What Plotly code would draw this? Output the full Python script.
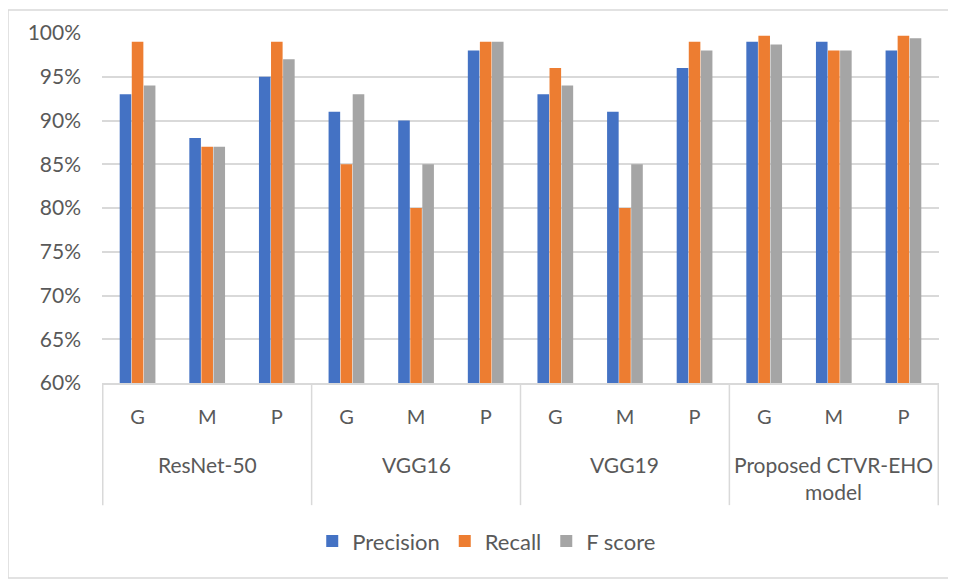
import plotly.graph_objects as go

models = ["ResNet-50", "VGG16", "VGG19", "Proposed CTVR-EHO<br>model"]
classes = ["G", "M", "P"]
precision = [0.93, 0.88, 0.95, 0.91, 0.90, 0.98, 0.93, 0.91, 0.96, 0.99, 0.99, 0.98]
recall = [0.99, 0.87, 0.99, 0.85, 0.80, 0.99, 0.96, 0.80, 0.99, 0.997, 0.98, 0.997]
fscore = [0.94, 0.87, 0.97, 0.93, 0.85, 0.99, 0.94, 0.85, 0.98, 0.987, 0.98, 0.994]
series = [("Precision", precision, "#4472C4"), ("Recall", recall, "#ED7D31"), ("F score", fscore, "#A5A5A5")]

keys = [f"{m}|{c}" for m in models for c in classes]
ticktext = [c for m in models for c in classes]

FONT = "Lato, 'Open Sans', sans-serif"
TXT = "#595959"
GRID = "#d9d9d9"

fig = go.Figure()
for name, vals, col in series:
    fig.add_trace(go.Bar(x=keys, y=vals, name=name, marker=dict(color=col, line=dict(width=0))))

fig.update_layout(
    width=948, height=571,
    margin=dict(l=94, r=17, t=25, b=196, autoexpand=False),
    paper_bgcolor="white", plot_bgcolor="white",
    barmode="group", bargap=0.48, bargroupgap=0.04,
    font=dict(family=FONT, size=20, color=TXT),
    showlegend=True,
    legend=dict(orientation="h", xref="container", x=0.505, xanchor="center",
                yref="container", y=0.066, yanchor="middle",
                font=dict(size=22, color=TXT), itemwidth=30, traceorder="normal"),
)
fig.update_yaxes(range=[0.6, 1.0], dtick=0.05, tick0=0.6, tickformat=".0%",
                 showgrid=True, gridcolor=GRID, gridwidth=1.5, zeroline=False,
                 showline=False, ticks="", ticklabelstandoff=20, automargin=False,
                 tickfont=dict(size=21, color=TXT))
fig.update_xaxes(type="category", categoryorder="array", categoryarray=keys,
                 tickvals=keys, ticktext=ticktext, showgrid=False,
                 showline=True, linecolor=GRID, linewidth=1.5, ticks="",
                 ticklabelstandoff=15, automargin=False, tickfont=dict(size=20, color=TXT))

# group dividers
for i in range(len(models) + 1):
    fig.add_shape(type="line", xref="x", yref="paper",
                  x0=i * 3 - 0.5, x1=i * 3 - 0.5, y0=0, y1=-0.349,
                  line=dict(color=GRID, width=1.5))
# group labels
for i, m in enumerate(models):
    fig.add_annotation(x=keys[i * 3 + 1], xref="x", yref="paper", y=-0.19,
                       yanchor="top", text=m, showarrow=False,
                       font=dict(size=21, color=TXT))
# chart border
fig.add_shape(type="rect", xref="paper", yref="paper",
              x0=-0.1123, x1=1.03, y0=-0.557, y1=1.066,
              line=dict(color=GRID, width=1.5))

fig.write_html("out.html")
